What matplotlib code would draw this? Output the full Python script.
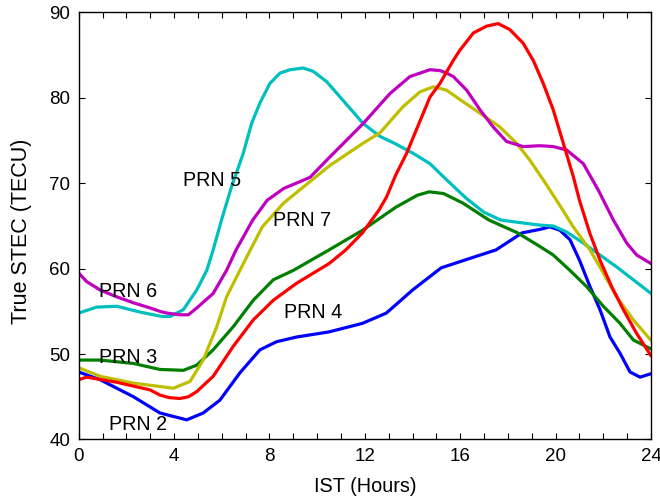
import matplotlib
matplotlib.use("Agg")
import matplotlib.pyplot as plt
from matplotlib.ticker import MultipleLocator

plt.rcParams['font.family'] = ['Liberation Sans', 'DejaVu Sans']

# Slant TEC for each satellite: (hour, TECU) samples
prn2_t = [0, 0.9, 2.3, 3.41, 4.53, 5.22, 5.92, 6.76, 7.6, 8.3, 9.14, 10.5, 11.9, 12.9, 14.0, 15.2,
          16.4, 17.5, 18.6, 19.34, 19.76, 20.18, 20.6, 21.0, 21.44, 21.86, 22.28, 22.7, 23.12,
          23.54, 24]
prn2_v = [47.9, 47.0, 45.0, 43.1, 42.3, 43.1, 44.6, 47.8, 50.5, 51.45, 52.0, 52.6, 53.6, 54.8, 57.5, 60.1,
          61.2, 62.2, 64.2, 64.6, 64.9, 64.5, 63.4, 61.0, 57.9, 55.2, 52.0, 50.1, 47.9,
          47.3, 47.7]

prn3_t = [0, 0.9, 2.3, 3.41, 4.39, 4.95, 5.64, 6.48, 7.32, 8.16, 9.0, 10.5, 11.9, 13.3, 14.2, 14.7,
          15.3, 16.1, 17.2, 18.4, 19.34, 19.9, 20.6, 21.3, 22.0, 22.7, 23.26, 24]
prn3_v = [49.3, 49.3, 48.9, 48.2, 48.1, 48.7, 50.5, 53.2, 56.3, 58.7, 59.8, 62.2, 64.5, 67.2, 68.6, 69.0,
          68.8, 67.7, 65.7, 64.2, 62.6, 61.6, 59.8, 57.9, 55.6, 53.6, 51.65, 50.6]

prn4_t = [0, 0.33, 1.6, 3.0, 3.41, 3.8, 4.25, 4.6, 4.95, 5.64, 6.48, 7.32, 8.16, 9.14, 10.5, 11.2,
          11.9, 12.6, 12.91, 13.3, 13.75, 14.73, 15.15, 15.71, 15.99, 16.55, 17.1, 17.59, 18.08,
          18.64, 19.06, 19.48, 19.9, 20.32, 20.74, 21.0, 21.44, 21.86, 22.35, 22.84, 23.4, 24]
prn4_v = [47.0, 47.3, 46.7, 45.8, 45.2, 44.9, 44.8, 45.0, 45.6, 47.4, 50.9, 54.0, 56.3, 58.3, 60.6, 62.2,
          64.2, 66.9, 68.4, 71.0, 73.5, 80.1, 81.7, 84.4, 85.6, 87.6, 88.4, 88.7, 88.0,
          86.4, 84.4, 81.7, 78.6, 74.7, 70.8, 68.0, 64.1, 61.0, 57.9, 55.2, 52.4, 49.8]

prn5_t = [0, 0.75, 1.6, 2.6, 3.5, 3.83, 4.39, 4.95, 5.37, 5.64, 6.0, 6.41, 6.9, 7.25, 7.6, 8.02,
          8.44, 8.86, 9.42, 9.84, 10.4, 10.9, 11.4, 11.93, 12.63, 13.3, 14.03, 14.73, 15.43,
          16.27, 17.0, 17.7, 18.5, 19.34, 19.9, 20.46, 21.16, 21.86, 22.56, 23.26, 24]
prn5_v = [54.8, 55.5, 55.6, 54.9, 54.4, 54.4, 55.2, 57.5, 59.8, 62.2, 65.8, 69.6, 73.5, 77.0, 79.4, 81.7,
          82.9, 83.3, 83.5, 83.1, 81.9, 80.3, 78.7, 77.0, 75.5, 74.6, 73.5, 72.3, 70.4,
          68.2, 66.6, 65.7, 65.4, 65.1, 65.0, 64.3, 63.0, 61.6, 60.2, 58.7, 57.1]

prn6_t = [0, 0.33, 0.9, 1.6, 2.3, 3.0, 3.41, 3.7, 4.25, 4.6, 4.95, 5.64, 6.2, 6.6, 7.3, 7.9,
          8.6, 9.2, 9.7, 10.54, 11.93, 13.05, 13.89, 14.73, 15.15, 15.43, 15.71, 16.27, 16.83,
          17.38, 17.94, 18.64, 19.34, 19.9, 20.46, 21.16, 21.79, 22.42, 22.98, 23.4, 24]
prn6_v = [59.5, 58.5, 57.5, 56.7, 56.0, 55.4, 55.0, 54.8, 54.6, 54.6, 55.4, 57.1, 59.8, 62.2, 65.7, 68.0,
          69.4, 70.1, 70.7, 73.1, 77.0, 80.5, 82.5, 83.3, 83.2, 82.9, 82.5, 80.9, 78.6,
          76.6, 74.9, 74.3, 74.4, 74.3, 73.9, 72.3, 69.2, 65.7, 63.0, 61.6, 60.6]

prn7_t = [0, 0.9, 2.3, 3.41, 3.97, 4.67, 5.22, 5.79, 6.2, 6.76, 7.2, 7.7, 8.6, 9.7, 10.54, 11.93,
          12.63, 13.61, 14.31, 14.87, 15.43, 15.99, 16.83, 17.66, 18.36, 18.92, 19.48, 20.04,
          20.74, 21.44, 22.0, 22.56, 23.26, 24]
prn7_v = [48.4, 47.4, 46.6, 46.2, 46.0, 46.8, 49.3, 53.2, 56.7, 59.8, 62.2, 64.9, 67.7, 70.2, 72.1, 74.7,
          75.9, 79.0, 80.7, 81.3, 80.9, 79.8, 78.2, 76.6, 74.7, 72.7, 70.4, 68.0,
          64.9, 62.2, 59.5, 56.7, 54.0, 51.6]

series = [
    (prn2_t, prn2_v, '#0000ff'),
    (prn3_t, prn3_v, '#007f00'),
    (prn5_t, prn5_v, '#00bfbf'),
    (prn7_t, prn7_v, '#bfbf00'),
    (prn6_t, prn6_v, '#bf00bf'),
    (prn4_t, prn4_v, '#ff0000'),
]

labels = ['PRN 5', 'PRN 7', 'PRN 6', 'PRN 3', 'PRN 4', 'PRN 2']
label_x = [5.59, 9.37, 2.07, 2.07, 9.83, 2.5]
label_y = [70.3, 65.6, 57.3, 49.6, 54.9, 41.7]

fig = plt.figure(figsize=(6.6, 4.98), dpi=100)
ax = fig.add_axes([0.1192, 0.1175, 0.8672, 0.8574])

for t, v, c in series:
    ax.plot(t, v, color=c, lw=2.3, solid_joinstyle='round', solid_capstyle='round')

for s, x, y in zip(labels, label_x, label_y):
    ax.text(x, y, s, fontsize=14.2, ha='center', va='center', color='black')

ax.set_xlim(0, 24)
ax.set_ylim(40, 90)
ax.xaxis.set_major_locator(MultipleLocator(4))
ax.xaxis.set_minor_locator(MultipleLocator(1))
ax.yaxis.set_major_locator(MultipleLocator(10))
ax.tick_params(which='both', direction='in', top=True, right=True, length=4,
               width=0.8, labelsize=13.5, pad=6)
for sp in ax.spines.values():
    sp.set_linewidth(1.0)

ax.set_xlabel('IST (Hours)', fontsize=14.3)
ax.set_ylabel('True STEC (TECU)', fontsize=15.5)
ax.xaxis.set_label_coords(0.5, -0.088)
ax.yaxis.set_label_coords(-0.081, 0.488)

fig.savefig('out.png', dpi=100)
